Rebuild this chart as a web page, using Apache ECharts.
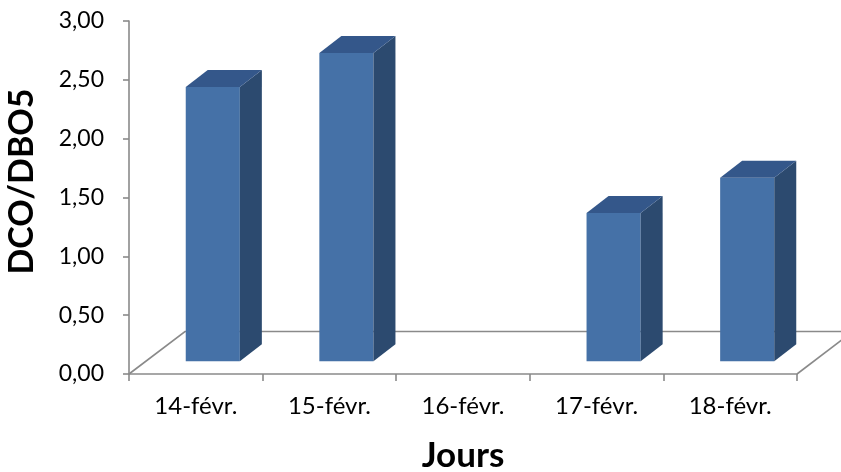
<!DOCTYPE html>
<html>
<head>
<meta charset="utf-8">
<script src="https://cdn.jsdelivr.net/npm/echarts@6/dist/echarts.min.js"></script>
<style>
  html, body { margin: 0; padding: 0; background: #ffffff; }
  #chart { width: 841px; height: 472px; }
</style>
</head>
<body>
<div id="chart"></div>
<script>
// DCO/DBO5 ratio per day
const days = ['14-févr.', '15-févr.', '16-févr.', '17-févr.', '18-févr.'];
const ratios = [2.33, 2.62, null, 1.26, 1.56];
const yTicks = [0, 0.5, 1, 1.5, 2, 2.5, 3];

// Oblique projection of the 3-D floor and columns (pixels)
const FLOOR_DX = 56, FLOOR_DY = -42.5;
const BAR_DX = 22, BAR_DY = -17;
const BAR_W = 0.405;              // front face width as a share of the category band
const AXIS_GREY = '#8a8a8a';
const FRONT = '#4571a7', TOP = '#34578a', SIDE = '#2c4a6f';
const FONT = 'Lato';

const chart = echarts.init(document.getElementById('chart'));

function renderFloor(params, api) {
  const cs = params.coordSys;
  const x0 = cs.x, x1 = cs.x + cs.width, y0 = cs.y + cs.height;
  const style = { stroke: AXIS_GREY, lineWidth: 1.6, fill: null };
  return {
    type: 'group',
    children: [
      { type: 'polyline', shape: { points: [[x0, y0], [x0 + FLOOR_DX, y0 + FLOOR_DY], [x1 + FLOOR_DX, y0 + FLOOR_DY]] }, style },
      { type: 'line', shape: { x1: x1, y1: y0, x2: x1 + FLOOR_DX, y2: y0 + FLOOR_DY }, style }
    ]
  };
}

function renderBar(params, api) {
  const v = api.value(1);
  if (v == null || isNaN(v)) return null;
  const base = api.coord([api.value(0), 0]);
  const top = api.coord([api.value(0), v]);
  const band = api.size([1, 0])[0];
  const w = band * BAR_W;
  const offX = (FLOOR_DX - BAR_DX) / 2, offY = (FLOOR_DY - BAR_DY) / 2;
  const cx = base[0] + offX;
  const xa = cx - w / 2, xb = cx + w / 2;
  const yb = base[1] + offY, yt = top[1] + offY;
  return {
    type: 'group',
    children: [
      { type: 'polygon', shape: { points: [[xa, yb], [xb, yb], [xb, yt], [xa, yt]] }, style: { fill: FRONT } },
      { type: 'polygon', shape: { points: [[xb, yb], [xb + BAR_DX, yb + BAR_DY], [xb + BAR_DX, yt + BAR_DY], [xb, yt]] }, style: { fill: SIDE } },
      { type: 'polygon', shape: { points: [[xa, yt], [xb, yt], [xb + BAR_DX, yt + BAR_DY], [xa + BAR_DX, yt + BAR_DY]] }, style: { fill: TOP } }
    ]
  };
}

chart.setOption({
  animation: false,
  backgroundColor: '#ffffff',
  grid: { left: 129, right: 44, top: 21, bottom: 98, containLabel: false, outerBoundsMode: 'none' },
  xAxis: {
    type: 'category',
    data: days,
    boundaryGap: true,
    name: 'Jours',
    nameLocation: 'middle',
    nameGap: 64,
    nameTextStyle: { fontFamily: FONT, fontWeight: 'bold', fontSize: 35, color: '#000' },
    axisLine: { lineStyle: { color: AXIS_GREY, width: 1.6 } },
    axisTick: { show: true, length: 7, lineStyle: { color: AXIS_GREY, width: 1.6 } },
    axisLabel: { fontFamily: FONT, fontSize: 24, color: '#000', margin: 20 },
    splitLine: { show: false }
  },
  yAxis: {
    type: 'value',
    min: yTicks[0],
    max: yTicks[yTicks.length - 1],
    interval: yTicks[1] - yTicks[0],
    name: 'DCO/DBO5',
    nameLocation: 'middle',
    nameGap: 90,
    nameTextStyle: { fontFamily: FONT, fontWeight: 'bold', fontSize: 34, color: '#000', padding: [0, 0, 0, 32] },
    axisLine: { show: true, lineStyle: { color: AXIS_GREY, width: 1.6 } },
    axisTick: { show: true, length: 6, lineStyle: { color: AXIS_GREY, width: 1.6 } },
    axisLabel: {
      fontFamily: FONT, fontSize: 23, color: '#000', margin: 25,
      formatter: v => v.toFixed(2).replace('.', ',')
    },
    splitLine: { show: false }
  },
  series: [
    {
      type: 'custom',
      name: 'floor',
      renderItem: renderFloor,
      data: [[0]],
      z: 1,
      silent: true
    },
    {
      type: 'custom',
      name: 'DCO/DBO5',
      renderItem: renderBar,
      encode: { x: 0, y: 1 },
      data: days.map((d, i) => [i, ratios[i]]),
      z: 2
    }
  ]
});
</script>
</body>
</html>
